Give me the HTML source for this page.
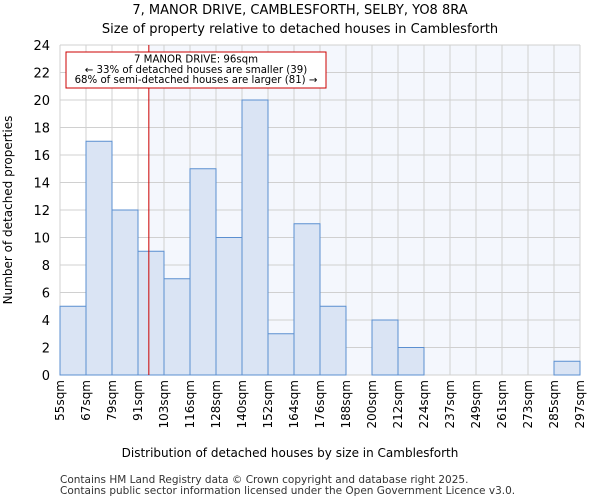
<!DOCTYPE html>
<html><head><meta charset="utf-8"><style>
body{margin:0;background:#fff;font-family:"DejaVu Sans","Liberation Sans",sans-serif;}
</style></head><body>
<svg id="chart" width="600" height="500" xmlns="http://www.w3.org/2000/svg">
<text x="300" y="14" text-anchor="middle" font-size="13">7, MANOR DRIVE, CAMBLESFORTH, SELBY, YO8 8RA</text>
<text x="300" y="33" text-anchor="middle" font-size="13">Size of property relative to detached houses in Camblesforth</text>
<g id="plot"></g>
<text x="290" y="457" text-anchor="middle" font-size="12">Distribution of detached houses by size in Camblesforth</text>
<text transform="translate(12,210) rotate(-90)" text-anchor="middle" font-size="12">Number of detached properties</text>
<text x="60" y="483" font-size="10.5" fill="#333">Contains HM Land Registry data © Crown copyright and database right 2025.</text>
<text x="60" y="494" font-size="10.5" fill="#333">Contains public sector information licensed under the Open Government Licence v3.0.</text>
</svg>
<script>
const binLabels=["55sqm","67sqm","79sqm","91sqm","103sqm","116sqm","128sqm","140sqm","152sqm","164sqm","176sqm","188sqm","200sqm","212sqm","224sqm","237sqm","249sqm","261sqm","273sqm","285sqm","297sqm"];
const counts=[5,17,12,9,7,15,10,20,3,11,5,0,4,2,0,0,0,0,0,1];
const yTicks=[0,2,4,6,8,10,12,14,16,18,20,22,24];
const markerValue=96;
const binEdges=[55,67,79,91,103,115,127,139,151,163,175,187,199,211,223,235,247,259,271,283,295];
const NS="http://www.w3.org/2000/svg";
const L=60,R=580,T=45,B=375,yMax=24;
const nb=counts.length,bw=(R-L)/nb;
const xs=i=>L+i*bw;
const ys=v=>B-(v/yMax)*(B-T);
function xv(v){for(let i=0;i<binEdges.length-1;i++){if(v>=binEdges[i]&&v<=binEdges[i+1])return xs(i)+bw*(v-binEdges[i])/(binEdges[i+1]-binEdges[i]);}return R;}
const g=document.getElementById('plot');
function mk(t,a){const e=document.createElementNS(NS,t);for(const k in a)e.setAttribute(k,a[k]);g.appendChild(e);return e;}
const mx=xv(markerValue);
let e=mk('rect',{x:mx,y:T,width:R-mx,height:B-T,fill:'#f4f7fd'});


for(let i=0;i<=nb;i++){e=mk('line',{x1:xs(i),x2:xs(i),y1:T,y2:B,stroke:'#d0d0d0','stroke-width':1});

}
yTicks.forEach(v=>{e=mk('line',{x1:L,x2:R,y1:ys(v),y2:ys(v),stroke:'#d0d0d0','stroke-width':1});


const t=mk('text',{x:L-10,y:ys(v)+5,'text-anchor':'end','font-size':13});t.textContent=v;

});
counts.forEach((c,i)=>{if(c<=0)return;e=mk('rect',{x:xs(i),y:ys(c),width:bw,height:B-ys(c),fill:'#dae4f4',stroke:'#5b8fd0','stroke-width':1});

});
binLabels.forEach((l,i)=>{const x=xs(i)+4;const t=mk('text',{x:x,y:380,'text-anchor':'end','font-size':12,transform:`rotate(-90 ${x} 380)`});t.textContent=l;

});
e=mk('line',{x1:mx,x2:mx,y1:T,y2:B,stroke:'#cc0000','stroke-width':1});


e=mk('rect',{x:66,y:52,width:260,height:36,fill:'#fff',stroke:'#cc0000','stroke-width':1});


["7 MANOR DRIVE: 96sqm","← 33% of detached houses are smaller (39)","68% of semi-detached houses are larger (81) →"].forEach((s,i)=>{const t=mk('text',{x:196,y:62.5+i*10.3,'text-anchor':'middle','font-size':10.2});t.textContent=s;

});
</script>
</body></html>
